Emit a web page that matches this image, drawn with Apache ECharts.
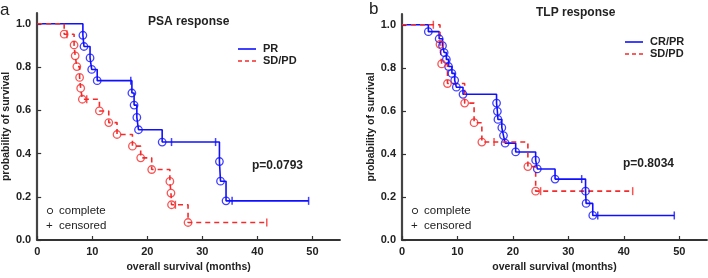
<!DOCTYPE html>
<html>
<head>
<meta charset="utf-8">
<script src="https://cdn.jsdelivr.net/npm/echarts@6/dist/echarts.min.js"></script>
<style>
  html, body { margin: 0; padding: 0; background: #fff; }
  #chart { width: 708px; height: 278px; }
</style>
</head>
<body>
<div id="chart"></div>
<script>
// panel a - PSA response
const psaPrEventT = [8.3, 8.5, 9.6, 9.9, 10.9, 17.2, 17.6, 18.1, 18.4, 22.7, 33.1, 33.3, 34.3];
const psaPrEventS = [0.947, 0.895, 0.842, 0.789, 0.737, 0.680, 0.624, 0.567, 0.510, 0.453, 0.363, 0.272, 0.181];
const psaPrCensorT = [17.0, 24.4, 32.4, 35.4, 49.3];

const psaSdEventT = [4.9, 6.7, 6.9, 7.2, 7.7, 7.9, 8.2, 11.3, 13.0, 14.5, 17.3, 18.8, 20.8, 24.1, 24.3, 24.4, 27.4];
const psaSdEventS = [0.952, 0.902, 0.852, 0.802, 0.752, 0.702, 0.651, 0.597, 0.543, 0.488, 0.434, 0.380, 0.326, 0.271, 0.217, 0.163, 0.081];
const psaSdCensorT = [5.4, 9.0, 25.1, 41.7];

// panel b - TLP response
const tlpCrEventT = [4.75, 6.7, 7.3, 7.6, 8.0, 8.4, 9.0, 9.5, 9.8, 11.0, 17.05, 17.2, 17.3, 18.0, 18.3, 18.6, 20.5, 24.1, 24.4, 27.6, 33.1, 33.2, 34.4];
const tlpCrEventS = [0.968, 0.935, 0.903, 0.871, 0.839, 0.806, 0.774, 0.742, 0.710, 0.677, 0.636, 0.598, 0.560, 0.522, 0.485, 0.450, 0.409, 0.371, 0.330, 0.283, 0.227, 0.170, 0.114];
const tlpCrCensorT = [32.4, 35.3, 49.1];

const tlpSdEventT = [6.85, 7.15, 8.2, 11.3, 13.0, 14.4, 22.7, 24.1];
const tlpSdEventS = [0.909, 0.818, 0.727, 0.636, 0.545, 0.455, 0.341, 0.227];
const tlpSdCensorT = [5.65, 16.6, 25.0, 41.6];

const xTicks = [0, 10, 20, 30, 40, 50];
const yTicks = [0, 0.2, 0.4, 0.6, 0.8, 1.0];

const BLUE = '#1010ff';
const RED = '#f52a2a';
const FONT = 'Liberation Sans, Arial, sans-serif';

function kmLine(evT, evS, cenT) {
    let pts = [[0, 1]];
    evT.forEach((t, i) => pts.push([t, evS[i]]));
    let last = Math.max(evT[evT.length - 1], cenT[cenT.length - 1]);
    if (last > evT[evT.length - 1]) pts.push([last, evS[evS.length - 1]]);
    return pts;
}

function survAt(evT, evS, t) {
    let s = 1;
    evT.forEach((e, i) => { if (e <= t) s = evS[i]; });
    return s;
}

// one group = step line + event circles + censor ticks
function groupSeries(idx, evT, evS, cenT, color, dashed) {
    return [
        {
            type: 'line', xAxisIndex: idx, yAxisIndex: idx, step: 'end',
            data: kmLine(evT, evS, cenT), symbol: 'none', z: dashed ? 3 : 2,
            lineStyle: { color: color, width: 1.6, type: dashed ? [5, 4] : 'solid' }
        },
        {
            type: 'scatter', xAxisIndex: idx, yAxisIndex: idx, z: 4,
            data: evT.map((t, i) => [t, evS[i]]),
            symbol: 'circle', symbolSize: 7.5,
            itemStyle: { color: 'rgba(255,255,255,0)', borderColor: color, borderWidth: 1.3 }
        },
        {
            type: 'scatter', xAxisIndex: idx, yAxisIndex: idx, z: 4,
            data: cenT.map(t => [t, survAt(evT, evS, t)]),
            symbol: 'rect', symbolSize: [1.5, 8],
            itemStyle: { color: color }
        }
    ];
}

function xAxis(idx) {
    return {
        type: 'value', gridIndex: idx, min: 0, max: 55,
        name: 'overall survival (months)', nameLocation: 'middle', nameGap: 22,
        nameTextStyle: { fontFamily: FONT, fontWeight: 'bold', fontSize: 10.5, color: '#222' },
        axisLine: { show: true, onZero: false, lineStyle: { color: '#333', width: 1.8 } },
        axisTick: { show: true, inside: true, length: 4, customValues: xTicks, lineStyle: { color: '#333', width: 1.2 } },
        axisLabel: { customValues: xTicks, margin: 6, fontFamily: FONT, fontWeight: 'bold', fontSize: 11, color: '#222' },
        splitLine: { show: false }
    };
}

function yAxis(idx) {
    return {
        type: 'value', gridIndex: idx, min: 0, max: 1.05,
        name: 'probability of survival', nameLocation: 'middle', nameGap: 19, nameRotate: 90,
        nameTextStyle: { fontFamily: FONT, fontWeight: 'bold', fontSize: 10.5, color: '#222' },
        axisLine: { show: true, onZero: false, lineStyle: { color: '#444', width: 2.2 } },
        axisTick: { show: true, inside: true, length: 4, customValues: yTicks, lineStyle: { color: '#333', width: 1.2 } },
        axisLabel: { customValues: yTicks, margin: 6, formatter: v => v.toFixed(1),
            fontFamily: FONT, fontWeight: 'bold', fontSize: 11, color: '#222' },
        splitLine: { show: false }
    };
}

function txt(x, y, s, size, weight, extra) {
    return Object.assign({
        type: 'text', x: x, y: y,
        style: { text: s, fontFamily: FONT, fontSize: size, fontWeight: weight, fill: '#222', verticalAlign: 'middle' }
    }, extra || {});
}

function legendLine(x, y, color, dashed) {
    return {
        type: 'line', shape: { x1: x, y1: y, x2: x + 18, y2: y },
        style: { stroke: color, lineWidth: 1.6, lineDash: dashed ? [4, 3] : null }
    };
}

// legend boxes + labels drawn as graphics
let graphics = [
    txt(0, 10, 'a', 17, 'normal'),
    txt(369, 9, 'b', 17, 'normal'),
    txt(148, 22, 'PSA response', 12, 'bold'),
    txt(536, 13, 'TLP response', 12, 'bold'),
    legendLine(238, 49, BLUE, false),
    legendLine(238, 61, RED, true),
    txt(263, 49, 'PR', 11, 'bold'),
    txt(263, 61, 'SD/PD', 11, 'bold'),
    legendLine(625, 42, BLUE, false),
    legendLine(625, 54, RED, true),
    txt(650, 42, 'CR/PR', 11, 'bold'),
    txt(650, 54, 'SD/PD', 11, 'bold'),
    txt(252, 166, 'p=0.0793', 12, 'bold'),
    txt(623, 164, 'p=0.8034', 12, 'bold')
];
[[50, 59], [415, 424]].forEach(p => {
    graphics.push({ type: 'circle', shape: { cx: p[0], cy: 211, r: 2.7 }, style: { fill: 'none', stroke: '#333', lineWidth: 1 } });
    graphics.push(txt(p[1], 211, 'complete', 11.5, 'normal'));
    graphics.push(txt(p[0] - 4, 226, '+', 11.5, 'normal'));
    graphics.push(txt(p[1], 226, 'censored', 11.5, 'normal'));
});

let chart = echarts.init(document.getElementById('chart'), null, { renderer: 'canvas' });
chart.setOption({
    animation: false,
    backgroundColor: '#fff',
    grid: [
        { left: 34, top: 13, width: 306, height: 231 },
        { left: 402, top: 14, width: 305, height: 231 }
    ],
    xAxis: [xAxis(0), xAxis(1)],
    yAxis: [yAxis(0), yAxis(1)],
    series: [].concat(
        groupSeries(0, psaPrEventT, psaPrEventS, psaPrCensorT, BLUE, false),
        groupSeries(0, psaSdEventT, psaSdEventS, psaSdCensorT, RED, true),
        groupSeries(1, tlpCrEventT, tlpCrEventS, tlpCrCensorT, BLUE, false),
        groupSeries(1, tlpSdEventT, tlpSdEventS, tlpSdCensorT, RED, true)
    ),
    graphic: graphics
});
</script>
</body>
</html>
